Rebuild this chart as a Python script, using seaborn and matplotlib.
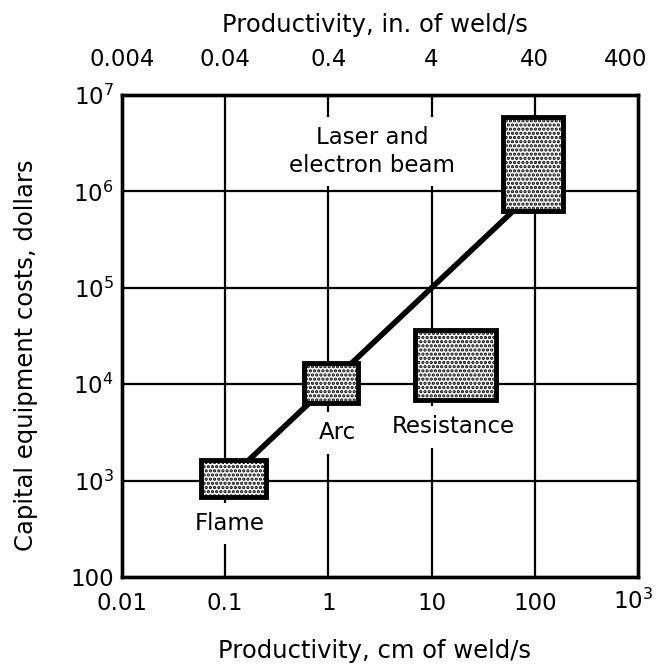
import matplotlib
matplotlib.use("Agg")
import matplotlib.pyplot as plt
from matplotlib.patches import Rectangle
from matplotlib.transforms import ScaledTranslation
import seaborn as sns
import pandas as pd

# ---- data ----
processes = ["Flame", "Arc", "Resistance", "Laser and\nelectron beam"]
x_low = [0.058, 0.58, 6.9, 49]
x_high = [0.25, 1.94, 42, 188]
y_low = [676, 6400, 6850, 6.3e5]
y_high = [1640, 16600, 36500, 5.9e6]

trend_x = [0.17, 62]
trend_y = [1640, 6.3e5]

bottom_ticks = [0.01, 0.1, 1, 10, 100, 1000]
bottom_labels = ["0.01", "0.1", "1", "10", "100", r"$\mathregular{10^3}$"]
top_labels = ["0.004", "0.04", "0.4", "4", "40", "400"]
left_ticks = [1e2, 1e3, 1e4, 1e5, 1e6, 1e7]
left_labels = ["100", r"$\mathregular{10^3}$", r"$\mathregular{10^4}$",
               r"$\mathregular{10^5}$", r"$\mathregular{10^6}$", r"$\mathregular{10^7}$"]

label_pos = [(0.11, 360), (1.21, 3120), (16.1, 3600), (2.64, 2.6e6)]

sns.set_theme(style="white")
plt.rcParams['font.family'] = ['DejaVu Sans']
plt.rcParams['mathtext.fontset'] = 'dejavusans'
plt.rcParams['hatch.linewidth'] = 1.6
for k in ['text.color', 'axes.labelcolor', 'xtick.color', 'ytick.color']:
    plt.rcParams[k] = 'black'

FS = 16.5
LFS = 17.5

fig = plt.figure(figsize=(6.56, 6.67), dpi=100)
ax = fig.add_axes([0.186, 0.135, 0.7866, 0.7226])
ax.set_xscale("log")
ax.set_yscale("log")
ax.set_xlim(0.01, 1000)
ax.set_ylim(100, 1e7)

# grid
for t in bottom_ticks[1:-1]:
    ax.axvline(t, color="black", lw=1.6, zorder=1)
for t in left_ticks[1:-1]:
    ax.axhline(t, color="black", lw=1.6, zorder=1)

df = pd.DataFrame({"x": trend_x, "y": trend_y})
sns.lineplot(data=df, x="x", y="y", ax=ax, color="black", lw=4, zorder=3)

for xl, xh, yl, yh in zip(x_low, x_high, y_low, y_high):
    r = Rectangle((xl, yl), xh - xl, yh - yl, facecolor="white",
                  edgecolor="black", lw=3.5, hatch="....", zorder=5)
    ax.add_patch(r)

for name, (tx, ty) in zip(processes, label_pos):
    ax.text(tx, ty, name, ha="center", va="center", fontsize=FS,
            linespacing=1.3, zorder=4,
            bbox=dict(boxstyle="square,pad=0.4", fc="white", ec="none"))

ax.set_xticks(bottom_ticks)
ax.set_xticklabels(bottom_labels, fontsize=FS)
ax.set_yticks(left_ticks)
ax.set_yticklabels(left_labels, fontsize=FS)
ax.minorticks_off()
ax.tick_params(axis="x", length=0, pad=11)
ax.tick_params(axis="y", length=0, pad=6)
ax.set_xlabel("Productivity, cm of weld/s", fontsize=LFS)
ax.set_ylabel("Capital equipment costs, dollars", fontsize=LFS)
ax.xaxis.set_label_coords(0.49, -0.128)
ax.yaxis.set_label_coords(-0.163, 0.46)

ax2 = ax.twiny()
ax2.set_xscale("log")
ax2.set_xlim(0.01, 1000)
ax2.set_xticks(bottom_ticks)
ax2.set_xticklabels(top_labels, fontsize=FS)
ax2.minorticks_off()
ax2.tick_params(length=0, pad=17)
ax2.set_xlabel("Productivity, in. of weld/s", fontsize=LFS)
ax2.xaxis.set_label_coords(0.49, 1.131)

# nudge the rightmost labels inward, as in the reference
last_top = ax2.get_xticklabels()[-1]
last_top.set_transform(last_top.get_transform() + ScaledTranslation(-0.12, 0, fig.dpi_scale_trans))
last_bot = ax.get_xticklabels()[-1]
last_bot.set_transform(last_bot.get_transform() + ScaledTranslation(-0.05, 0.04, fig.dpi_scale_trans))

for a in (ax, ax2):
    for s in a.spines.values():
        s.set_color("black")
        s.set_linewidth(2.4)

fig.savefig("out.png", dpi=100, facecolor="white")
